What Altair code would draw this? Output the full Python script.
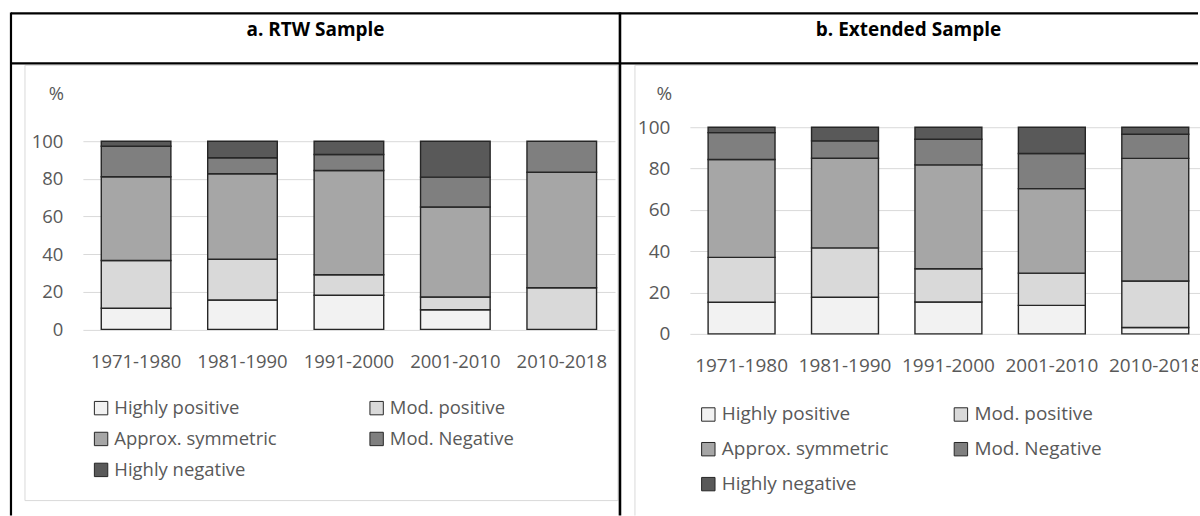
import altair as alt
import pandas as pd

periods = ["1971-1980", "1981-1990", "1991-2000", "2001-2010", "2010-2018"]
categories = ["Highly positive", "Mod. positive", "Approx. symmetric", "Mod. Negative", "Highly negative"]
colors = ["#f2f2f2", "#d9d9d9", "#a6a6a6", "#7f7f7f", "#595959"]

# a. RTW Sample (per category, across periods)
rtw_highly_pos = [11.2, 15.6, 18.1, 10.4, 0.0]
rtw_mod_pos = [25.4, 21.7, 10.9, 6.8, 22.1]
rtw_symmetric = [44.5, 45.4, 55.4, 47.8, 61.4]
rtw_mod_neg = [16.2, 8.5, 8.5, 15.9, 16.5]
rtw_highly_neg = [2.7, 8.8, 7.1, 19.1, 0.0]

# b. Extended Sample
ext_highly_pos = [15.3, 17.7, 15.4, 13.8, 3.1]
ext_mod_pos = [21.7, 23.9, 16.1, 15.6, 22.5]
ext_symmetric = [47.4, 43.4, 50.3, 40.9, 59.3]
ext_mod_neg = [13.0, 8.4, 12.4, 17.0, 11.7]
ext_highly_neg = [2.6, 6.6, 5.8, 12.7, 3.4]

y_ticks = [0, 20, 40, 60, 80, 100]
FONT = "Open Sans"
TXT = "#595959"


def make_df(series):
    rows = []
    for ci, (cat, vals) in enumerate(zip(categories, series)):
        for p, v in zip(periods, vals):
            if v > 0:
                rows.append({"period": p, "category": cat, "value": v, "idx": ci})
    return pd.DataFrame(rows)


def x_scale(pad_in, rng=None):
    if rng is None:
        return alt.Scale(paddingInner=pad_in, paddingOuter=pad_in / 2)
    return alt.Scale(paddingInner=pad_in, paddingOuter=pad_in / 2, range=rng)


def bars(df, width, height, ydom, fs, xsc, x_axis, title_x, legend_x, legend_y,
         row_pad, col_pad):
    return alt.Chart(df).mark_bar(stroke="#262626", strokeWidth=1.4).encode(
        x=alt.X("period:N", sort=periods, scale=xsc, axis=x_axis),
        y=alt.Y("value:Q", stack="zero",
                scale=alt.Scale(domain=ydom, nice=False, zero=False),
                axis=alt.Axis(values=y_ticks, grid=True, gridColor="#d9d9d9",
                              gridWidth=1, domain=False, ticks=False, tickSize=0,
                              labelPadding=20, labelFontSize=fs, labelColor=TXT,
                              labelFont=FONT, title="%", titleAngle=0,
                              titleX=title_x, titleY=-34, titleAlign="center",
                              titleBaseline="middle", titleFontWeight="normal",
                              titleFontSize=fs, titleColor=TXT, titleFont=FONT)),
        color=alt.Color("category:N",
                        scale=alt.Scale(domain=categories, range=colors),
                        legend=alt.Legend(title=None, orient="none", legendX=legend_x,
                                          legendY=legend_y, columns=2,
                                          direction="horizontal",
                                          columnPadding=col_pad, rowPadding=row_pad,
                                          symbolType="square", symbolSize=180,
                                          symbolStrokeColor="#262626",
                                          symbolStrokeWidth=1, symbolOpacity=1,
                                          labelFontSize=fs, labelColor=TXT,
                                          labelFont=FONT, labelLimit=400,
                                          labelOffset=4, padding=0)),
        order=alt.Order("idx:Q", sort="ascending"),
    ).properties(width=width, height=height)


OX_A, OY = 83, 127
one = pd.DataFrame({"k": [0]})


def rule(x, x2, y, y2, w=2, color="black"):
    return alt.Chart(one).mark_rule(color=color, strokeWidth=w).encode(
        x=alt.value(x - OX_A), x2=alt.value(x2 - OX_A),
        y=alt.value(y - OY), y2=alt.value(y2 - OY))


def header(txt, x, y):
    return alt.Chart(one).mark_text(text=txt, font=FONT, fontSize=19, fontWeight="bold",
                                    color="black", align="center",
                                    baseline="middle").encode(
        x=alt.value(x - OX_A), y=alt.value(y - OY))


bounds_rect = alt.Chart(one).mark_rect(opacity=0).encode(
    x=alt.value(0 - OX_A), x2=alt.value(1200 - OX_A),
    y=alt.value(0 - OY), y2=alt.value(516 - OY))

box_a = alt.Chart(one).mark_rect(fillOpacity=0, stroke="#d9d9d9", strokeWidth=1).encode(
    x=alt.value(25 - OX_A), x2=alt.value(619 - OX_A),
    y=alt.value(65 - OY), y2=alt.value(501 - OY))

decor = [
    bounds_rect,
    box_a,
    rule(636, 636, 65, 516, 1, "#d9d9d9"),
    rule(636, 1200, 65, 65, 1, "#d9d9d9"),
    rule(11, 1200, 13, 13, 2.2),
    rule(11, 1200, 63, 63, 2.2),
    rule(11, 11, 12, 516, 2.2),
    rule(621, 621, 12, 516, 2.6),
    header("a. RTW Sample", 316, 30),
    header("b. Extended Sample", 910, 30),
]

df_a = make_df([rtw_highly_pos, rtw_mod_pos, rtw_symmetric, rtw_mod_neg, rtw_highly_neg])
df_b = make_df([ext_highly_pos, ext_mod_pos, ext_symmetric, ext_mod_neg, ext_highly_neg])

# panel a: 100 at y=141, 0 at y=329.5, plot top aligned at y=127
FS_A = 18.5
h_a = 329.5 - OY
ymax_a = 100 * h_a / (329.5 - 141)
axis_a = alt.Axis(title=None, labelAngle=0, domain=False, ticks=False, tickSize=0,
                  labelPadding=23, labelFontSize=FS_A, labelColor=TXT,
                  labelFont=FONT, grid=False)
bars_a = bars(df_a, 533, h_a, [0, ymax_a], FS_A, x_scale(0.346), axis_a,
              -27, 9, 272, 12, 90)
panel_a = alt.layer(*decor, bars_a).properties(width=533, height=h_a)

# panel b: 100 at y=127, 0 at y=334; plot is cut by the right edge at x=1200
FS_B = 19
W_B = 1200 - 691           # visible part of the plot
RANGE_B = [0, 518]         # full band range (last bar partly past the edge)
h_b = 260                  # includes the category-label row (clipped at the edge)
px_per_unit = (334 - OY) / 100
ymin_b = -(h_b - (334 - OY)) / px_per_unit
bars_b = bars(df_b, W_B, h_b, [ymin_b, 100], FS_B, x_scale(0.353, RANGE_B), None,
              -26, 9, 278, 15, 62)
labels_b = alt.Chart(pd.DataFrame({"period": periods})).mark_text(
    clip=True, font=FONT, fontSize=FS_B, color=TXT, align="center", baseline="middle"
).encode(
    x=alt.X("period:N", sort=periods, scale=x_scale(0.353, RANGE_B), axis=None),
    y=alt.value(366 - OY),
    text="period:N",
)
panel_b = alt.layer(bars_b, labels_b).properties(width=W_B, height=h_b)

chart = alt.hconcat(panel_a, panel_b, spacing=75, bounds="flush").resolve_scale(
    color="independent", x="independent", y="independent"
).resolve_legend(color="independent").properties(
    padding=0, background="white"
).configure_view(stroke=None)

chart.save("out.html", embed_options={"renderer": "svg", "actions": False})
